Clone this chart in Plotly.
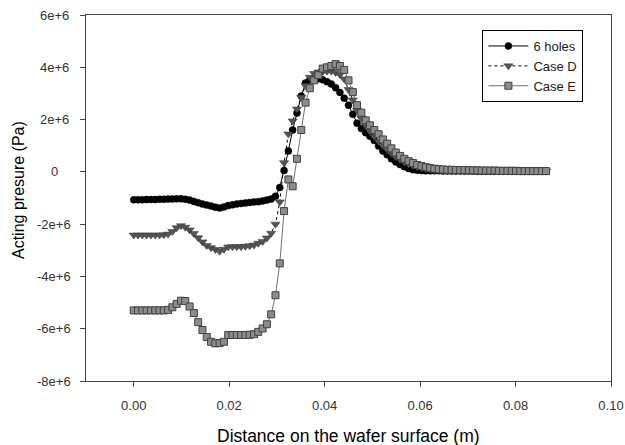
import plotly.graph_objects as go

distance_m = [
    0.0000, 0.0009, 0.0018, 0.0027, 0.0036, 0.0045, 0.0054, 0.0063, 0.0072, 0.0081,
    0.0090, 0.0099, 0.0108, 0.0117, 0.0126, 0.0135, 0.0144, 0.0153, 0.0162, 0.0171,
    0.0180, 0.0189, 0.0198, 0.0207, 0.0216, 0.0225, 0.0234, 0.0243, 0.0252, 0.0261,
    0.0270, 0.0279, 0.0288, 0.0297, 0.0306, 0.0315, 0.0324, 0.0333, 0.0342, 0.0351,
    0.0360, 0.0369, 0.0378, 0.0387, 0.0396, 0.0405, 0.0414, 0.0423, 0.0432, 0.0441,
    0.0450, 0.0459, 0.0468, 0.0477, 0.0486, 0.0495, 0.0504, 0.0513, 0.0522, 0.0531,
    0.0540, 0.0549, 0.0558, 0.0567, 0.0576, 0.0585, 0.0594, 0.0603, 0.0612, 0.0621,
    0.0630, 0.0639, 0.0648, 0.0657, 0.0666, 0.0675, 0.0684, 0.0693, 0.0702, 0.0711,
    0.0720, 0.0729, 0.0738, 0.0747, 0.0756, 0.0765, 0.0774, 0.0783, 0.0792, 0.0801,
    0.0810, 0.0819, 0.0828, 0.0837, 0.0846, 0.0855, 0.0864,
]

# pressures in units of 1e6 Pa
six_holes_mpa = [
    -1.07, -1.07, -1.07, -1.06, -1.06, -1.06, -1.05, -1.05, -1.04, -1.04,
    -1.03, -1.03, -1.05, -1.08, -1.13, -1.18, -1.23, -1.27, -1.31, -1.35,
    -1.38, -1.34, -1.29, -1.26, -1.23, -1.21, -1.19, -1.17, -1.15, -1.14,
    -1.11, -1.08, -1.04, -0.93, -0.60, 0.05, 0.80, 1.60, 2.25, 2.90,
    3.40, 3.52, 3.57, 3.56, 3.52, 3.45, 3.36, 3.22, 3.04, 2.82,
    2.55, 2.20, 1.86, 1.66, 1.50, 1.36, 1.20, 0.99, 0.80, 0.65,
    0.50, 0.38, 0.28, 0.20, 0.13, 0.08, 0.06, 0.05, 0.04, 0.04,
    0.04, 0.04, 0.03, 0.03, 0.03, 0.03, 0.03, 0.03, 0.03, 0.03,
    0.02, 0.02, 0.02, 0.02, 0.02, 0.02, 0.02, 0.02, 0.02, 0.02,
    0.02, 0.02, 0.02, 0.02, 0.02, 0.02, 0.02,
]

case_d_mpa = [
    -2.42, -2.42, -2.42, -2.42, -2.42, -2.42, -2.42, -2.41, -2.38, -2.28,
    -2.14, -2.06, -2.12, -2.22, -2.36, -2.52, -2.68, -2.82, -2.90, -2.97,
    -3.04, -2.96, -2.87, -2.86, -2.86, -2.86, -2.85, -2.83, -2.80, -2.73,
    -2.66, -2.53, -2.35, -2.00, -1.15, 0.35, 1.45, 1.95, 2.40, 2.85,
    3.30, 3.62, 3.76, 3.82, 3.84, 3.85, 3.85, 3.80, 3.72, 3.55,
    3.15, 2.75, 2.35, 2.05, 1.78, 1.55, 1.35, 1.17, 1.00, 0.85,
    0.70, 0.57, 0.46, 0.37, 0.30, 0.24, 0.19, 0.15, 0.12, 0.10,
    0.08, 0.07, 0.06, 0.06, 0.05, 0.05, 0.05, 0.05, 0.04, 0.04,
    0.04, 0.04, 0.04, 0.04, 0.03, 0.03, 0.03, 0.03, 0.03, 0.03,
    0.03, 0.03, 0.03, 0.03, 0.03, 0.03, 0.03,
]

case_e_mpa = [
    -5.30, -5.30, -5.30, -5.30, -5.30, -5.30, -5.30, -5.30, -5.28, -5.18,
    -5.05, -4.93, -4.94, -5.15, -5.40, -5.75, -6.05, -6.32, -6.50, -6.56,
    -6.55, -6.50, -6.24, -6.24, -6.24, -6.24, -6.24, -6.23, -6.21, -6.12,
    -5.99, -5.83, -5.45, -4.72, -3.50, -1.50, -0.29, -0.55, 0.50, 1.60,
    2.65, 3.20, 3.50, 3.70, 3.95, 4.00, 4.05, 4.12, 4.05, 3.90,
    3.50, 3.05, 2.55, 2.26, 1.97, 1.78, 1.60, 1.44, 1.24, 1.08,
    0.90, 0.74, 0.61, 0.50, 0.41, 0.34, 0.26, 0.22, 0.18, 0.15,
    0.12, 0.10, 0.09, 0.08, 0.08, 0.07, 0.07, 0.07, 0.06, 0.06,
    0.06, 0.05, 0.05, 0.05, 0.05, 0.04, 0.04, 0.04, 0.04, 0.04,
    0.03, 0.03, 0.03, 0.03, 0.03, 0.03, 0.03,
]

y_tick_vals = [6e6, 4e6, 2e6, 0, -2e6, -4e6, -6e6, -8e6]
y_tick_text = ["6e+6", "4e+6", "2e+6", "0", "-2e+6", "-4e+6", "-6e+6", "-8e+6"]
x_tick_vals = [0.00, 0.02, 0.04, 0.06, 0.08, 0.10]
x_tick_text = ["0.00", "0.02", "0.04", "0.06", "0.08", "0.10"]

FONT = "Liberation Sans, Arial, sans-serif"
TICK_COLOR = "#333333"

fig = go.Figure()
fig.add_trace(go.Scatter(
    x=distance_m, y=[v * 1e6 for v in six_holes_mpa], name="6 holes",
    mode="lines+markers",
    line=dict(color="black", width=1),
    marker=dict(symbol="circle", size=7, color="black", line=dict(color="black", width=0.5)),
))
fig.add_trace(go.Scatter(
    x=distance_m, y=[v * 1e6 for v in case_d_mpa], name="Case D",
    mode="lines+markers",
    line=dict(color="black", width=1, dash="dot"),
    marker=dict(symbol="triangle-down", size=8, color="#555555", line=dict(color="#333333", width=0.5)),
))
fig.add_trace(go.Scatter(
    x=distance_m, y=[v * 1e6 for v in case_e_mpa], name="Case E",
    mode="lines+markers",
    line=dict(color="#707070", width=1),
    marker=dict(symbol="square", size=7, color="#8c8c8c", line=dict(color="#404040", width=1)),
))

axis_common = dict(
    showline=True, linecolor="#444444", linewidth=1, mirror=True,
    ticks="outside", ticklen=5, tickcolor="#444444", tickwidth=1,
    showgrid=False, zeroline=False, automargin=False,
    tickfont=dict(family=FONT, size=13, color=TICK_COLOR),
)

fig.update_xaxes(
    range=[-0.01, 0.10], tickvals=x_tick_vals, ticktext=x_tick_text,
    ticklabelstandoff=7, ticklabeloverflow="allow",
    **axis_common,
)
fig.update_yaxes(
    range=[-8e6, 6e6], tickvals=y_tick_vals, showticklabels=False,
    **axis_common,
)

annotations = []
# y tick labels, centred under one another as in the reference
for val, txt in zip(y_tick_vals, y_tick_text):
    annotations.append(dict(
        x=0, xref="paper", y=val, yref="y", text=txt, showarrow=False,
        xanchor="center", yanchor="middle", xshift=-32,
        font=dict(family=FONT, size=13, color=TICK_COLOR),
    ))
# axis titles
annotations.append(dict(
    x=0.5, xref="paper", y=0, yref="paper", yshift=-55,
    text="Distance on the wafer surface (m)", showarrow=False,
    xanchor="center", yanchor="middle",
    font=dict(family=FONT, size=17.5, color="black"),
))
annotations.append(dict(
    x=0, xref="paper", xshift=-68, y=0.5, yref="paper", yshift=8,
    text="Acting presure (Pa)", showarrow=False, textangle=-90,
    xanchor="center", yanchor="middle",
    font=dict(family=FONT, size=16, color="black"),
))

fig.update_layout(
    width=625, height=445,
    margin=dict(l=86, r=14, t=15, b=64, autoexpand=False),
    plot_bgcolor="white", paper_bgcolor="white",
    font=dict(family=FONT, size=13, color="#333333"),
    annotations=annotations,
    legend=dict(
        x=0.755, y=0.959, xanchor="left", yanchor="top",
        bgcolor="white", bordercolor="black", borderwidth=1,
        font=dict(family=FONT, size=13, color="#222222"),
        tracegroupgap=0, itemwidth=40, entrywidth=72,
    ),
)

fig.write_html(
    "out.html",
    config={"displayModeBar": False},
    post_script="document.body.style.margin='0';document.body.style.overflow='hidden';",
)
